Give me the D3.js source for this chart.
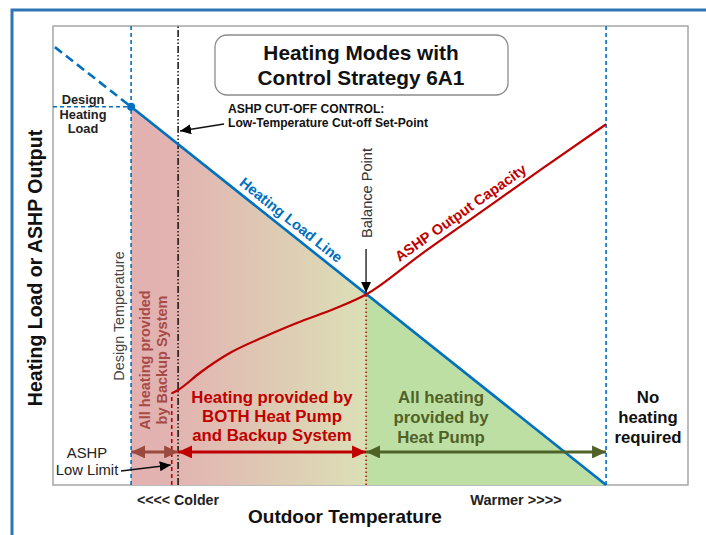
<!DOCTYPE html>
<html>
<head>
<meta charset="utf-8">
<script src="https://cdn.jsdelivr.net/npm/d3@7"></script>
<style>
  body { margin: 0; background: #fff; }
  svg { display: block; font-family: "Liberation Sans", Arial, sans-serif; }
</style>
</head>
<body>
<svg id="chart" width="706" height="535"></svg>
<script>
// abstract units: outdoor temperature 0..100, output 0..100
const loadTemps = [0.3, 12.3, 87.1];
const loadValues = [95.4, 82.4, 0];

const ashpTemps = [18.7, 19.7, 23.1, 27.9, 33.1, 38.4, 44.7, 49.3, 57.8, 67.2, 76.7, 87.1];
const ashpValues = [20.0, 20.7, 24.4, 28.8, 32.2, 35.3, 38.6, 41.5, 50.1, 59.3, 68.6, 78.6];

const designTemp = 12.3;
const lowLimitTemp = 18.7;
const cutoffTemp = 19.7;
const balanceTemp = 49.3;
const noHeatTemp = 87.1;
const designLoad = 82.4;
const arrowLevel = 7.2;

const modeSpans = [
    { from: designTemp, to: cutoffTemp, color: '#9b4a40', id: 'brown' },
    { from: cutoffTemp, to: balanceTemp, color: '#c00000', id: 'red' },
    { from: balanceTemp, to: noHeatTemp, color: '#4f6228', id: 'green' }
];

const svg = d3.select('#chart');
const x = d3.scaleLinear().domain([0, 100]).range([53, 688]);
const y = d3.scaleLinear().domain([0, 100]).range([485, 26]);
const loadAt = d3.scaleLinear().domain(loadTemps).range(loadValues);
const ashpAt = d3.scaleLinear().domain(ashpTemps).range(ashpValues);

const blue = '#0070c0';
const red = '#c00000';

// Outer frame
svg.append('rect')
    .attr('x', 12).attr('y', 10)
    .attr('width', 710).attr('height', 540)
    .attr('fill', '#fff')
    .attr('stroke', '#2e75b6')
    .attr('stroke-width', 3);

const defs = svg.append('defs');

// Gradient for heated area
const grad = defs.append('linearGradient')
    .attr('id', 'modeFill')
    .attr('gradientUnits', 'userSpaceOnUse')
    .attr('x1', x(designTemp)).attr('x2', x(noHeatTemp))
    .attr('y1', 0).attr('y2', 0);
const span = x(noHeatTemp) - x(designTemp);
const off = t => (x(t) - x(designTemp)) / span;
[
    [0, '#e3b1b1'],
    [off(cutoffTemp), '#e2b4b1'],
    [off(balanceTemp), '#dbe0b6'],
    [off(balanceTemp), '#bedfa3'],
    [1, '#bedfa3']
].forEach(s => grad.append('stop').attr('offset', s[0]).attr('stop-color', s[1]));

// Arrow markers
function addMarker(id, color, len, half) {
    defs.append('marker')
        .attr('id', id)
        .attr('markerUnits', 'userSpaceOnUse')
        .attr('markerWidth', len).attr('markerHeight', half * 2)
        .attr('refX', len).attr('refY', half)
        .attr('orient', 'auto-start-reverse')
        .append('path')
        .attr('d', `M0,0 L${len},${half} L0,${half * 2} Z`)
        .attr('fill', color);
}
modeSpans.forEach(s => addMarker('arr-' + s.id, s.color, 14, 6.5));
addMarker('arr-black', '#000', 11, 5);

// Plot area
svg.append('rect')
    .attr('x', x(0)).attr('y', y(100))
    .attr('width', x(100) - x(0)).attr('height', y(0) - y(100))
    .attr('fill', '#fff')
    .attr('stroke', '#a6a6a6')
    .attr('stroke-width', 1.5);

// Filled region under heating load line
const area = d3.area()
    .x(d => x(d[0]))
    .y0(y(0))
    .y1(d => y(d[1]));
svg.append('path')
    .datum([[designTemp, loadAt(designTemp)], [noHeatTemp, loadAt(noHeatTemp)]])
    .attr('d', area)
    .attr('fill', 'url(#modeFill)');

// Reference lines
function vline(t, v0, v1, color, dash, w) {
    svg.append('line')
        .attr('x1', x(t)).attr('x2', x(t))
        .attr('y1', y(v0)).attr('y2', y(v1))
        .attr('stroke', color)
        .attr('stroke-width', w)
        .attr('stroke-dasharray', dash);
}
vline(designTemp, 0, 100, blue, '4,3', 1.6);
vline(noHeatTemp, 0, 100, blue, '4,3', 1.6);
vline(cutoffTemp, 0, 100, '#111', '7,2,1.5,2,1.5,2', 1.5);
vline(lowLimitTemp, 0, ashpAt(lowLimitTemp), red, '4,3', 1.6);
vline(balanceTemp, 0, loadAt(balanceTemp), red, '1.5,2.5', 1.5);

svg.append('line')
    .attr('x1', x(0)).attr('x2', x(designTemp))
    .attr('y1', y(designLoad)).attr('y2', y(designLoad))
    .attr('stroke', blue).attr('stroke-width', 1.6)
    .attr('stroke-dasharray', '4,3');

// Heating load line
const line = d3.line().x(d => x(d[0])).y(d => y(d[1]));
const loadPts = loadTemps.map((t, i) => [t, loadValues[i]]);
svg.append('path')
    .datum(loadPts.slice(0, 2))
    .attr('d', line)
    .attr('fill', 'none')
    .attr('stroke', blue).attr('stroke-width', 2.6)
    .attr('stroke-dasharray', '9,5');
svg.append('path')
    .datum(loadPts.slice(1))
    .attr('d', line)
    .attr('fill', 'none')
    .attr('stroke', blue).attr('stroke-width', 2.6);
svg.append('circle')
    .attr('cx', x(designTemp)).attr('cy', y(designLoad))
    .attr('r', 4).attr('fill', blue);

// ASHP output capacity curve
const ashpLine = d3.line()
    .x(d => x(d[0])).y(d => y(d[1]))
    .curve(d3.curveMonotoneX);
svg.append('path')
    .datum(ashpTemps.map((t, i) => [t, ashpValues[i]]))
    .attr('d', ashpLine)
    .attr('fill', 'none')
    .attr('stroke', red).attr('stroke-width', 2.2);

// Mode span arrows
modeSpans.forEach(s => {
    svg.append('line')
        .attr('x1', x(s.from)).attr('x2', x(s.to))
        .attr('y1', y(arrowLevel)).attr('y2', y(arrowLevel))
        .attr('stroke', s.color).attr('stroke-width', 3)
        .attr('marker-start', `url(#arr-${s.id})`)
        .attr('marker-end', `url(#arr-${s.id})`);
});

// Text helpers
function textBlock(lines, cx, y0, dy, opts) {
    const t = svg.append('text')
        .attr('text-anchor', opts.anchor || 'middle')
        .attr('font-size', opts.size)
        .attr('font-weight', opts.weight || 'bold')
        .attr('fill', opts.color || '#111');
    lines.forEach((l, i) => t.append('tspan').attr('x', cx).attr('y', y0 + i * dy).text(l));
    return t;
}
function rotatedText(str, px, py, angle, opts) {
    svg.append('text')
        .attr('transform', `translate(${px},${py}) rotate(${angle})`)
        .attr('text-anchor', 'middle')
        .attr('dy', opts.dy || 0)
        .attr('font-size', opts.size)
        .attr('font-weight', opts.weight || 'bold')
        .attr('fill', opts.color || '#111')
        .text(str);
}

// Title box
svg.append('rect')
    .attr('x', 215).attr('y', 35).attr('width', 293).attr('height', 60)
    .attr('rx', 12)
    .attr('fill', '#fff').attr('stroke', '#8c8c8c').attr('stroke-width', 1.3);
textBlock(['Heating Modes with', 'Control Strategy 6A1'], 361, 60, 25, { size: 20.8 });

// Design heating load label
textBlock(['Design', 'Heating', 'Load'], 83, 104, 14.5, { size: 12.8, color: '#222' });

// Cut-off annotation
textBlock(['ASHP CUT-OFF CONTROL:', 'Low-Temperature Cut-off Set-Point'], 228, 113, 14,
    { size: 12.1, anchor: 'start', color: '#111' });
svg.append('line')
    .attr('x1', 224).attr('y1', 124)
    .attr('x2', x(cutoffTemp) + 2).attr('y2', 131)
    .attr('stroke', '#111').attr('stroke-width', 1.3)
    .attr('marker-end', 'url(#arr-black)');

// Heating load line label
const tl = 36.4;
const aLoad = Math.atan2(y(loadValues[2]) - y(loadValues[1]), x(loadTemps[2]) - x(loadTemps[1])) * 180 / Math.PI;
rotatedText('Heating Load Line', x(tl), y(loadAt(tl)), aLoad, { size: 14.6, color: blue, dy: -6 });

// ASHP output label
const ta = 65.2;
const aAshp = Math.atan2(y(ashpAt(67.2)) - y(ashpAt(57.8)), x(67.2) - x(57.8)) * 180 / Math.PI;
rotatedText('ASHP Output Capacity', x(ta), y(ashpAt(ta)), aAshp, { size: 14.6, color: red, dy: -6 });

// Balance point
rotatedText('Balance Point', x(balanceTemp) + 6, 193, -90, { size: 14.6, weight: 'normal', color: '#333' });
svg.append('line')
    .attr('x1', x(balanceTemp)).attr('x2', x(balanceTemp))
    .attr('y1', 249).attr('y2', y(loadAt(balanceTemp)) - 1)
    .attr('stroke', '#111').attr('stroke-width', 1.3)
    .attr('marker-end', 'url(#arr-black)');

// Design temperature
rotatedText('Design Temperature', 124, 316, -90, { size: 14.4, weight: 'normal', color: '#444' });

// Backup-only region label
svg.append('text')
    .attr('transform', `translate(150,360) rotate(-90)`)
    .attr('text-anchor', 'middle')
    .attr('font-size', 14.5).attr('font-weight', 'bold')
    .attr('fill', '#a64b47')
    .call(t => {
        t.append('tspan').attr('x', 0).attr('y', 0).text('All heating provided');
        t.append('tspan').attr('x', 0).attr('y', 16.5).text('by Backup System');
    });

// Mode labels
textBlock(['Heating provided by', 'BOTH Heat Pump', 'and Backup System'], 272, 403, 18.8, { size: 16.8, color: red });
textBlock(['All heating', 'provided by', 'Heat Pump'], 441, 403, 20, { size: 16.8, color: '#4f6228' });
textBlock(['No', 'heating', 'required'], 648, 403, 20, { size: 16.8, color: '#111' });

// ASHP low limit
textBlock(['ASHP', 'Low Limit'], 87, 458, 17, { size: 14.8, weight: 'normal', color: '#222' });
svg.append('line')
    .attr('x1', 121).attr('y1', 471)
    .attr('x2', x(lowLimitTemp) - 1).attr('y2', 465)
    .attr('stroke', '#111').attr('stroke-width', 1.3)
    .attr('marker-end', 'url(#arr-black)');

// Axis annotations
textBlock(['<<<< Colder'], 178, 505, 0, { size: 14.2, color: '#222' });
textBlock(['Warmer >>>>'], 516, 505, 0, { size: 14.5, color: '#222' });
textBlock(['Outdoor Temperature'], 345, 523, 0, { size: 19, color: '#111' });
rotatedText('Heating Load or ASHP Output', 42, 268, -90, { size: 19.5, color: '#111' });
</script>
</body>
</html>
